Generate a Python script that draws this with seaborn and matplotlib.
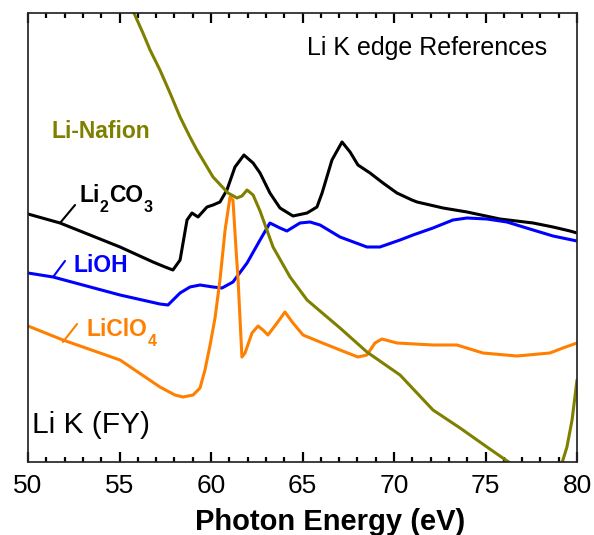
import numpy as np
import pandas as pd
import matplotlib
matplotlib.use("Agg")
import matplotlib.pyplot as plt
import seaborn as sns
from matplotlib.ticker import MultipleLocator
from matplotlib.transforms import IdentityTransform

# ---- data (photon energy in eV, intensity in arbitrary units) ----
li2co3_e = [50.00, 51.75, 55.03, 56.83, 57.49, 57.92, 58.31, 58.69, 58.96, 59.29,
            59.78, 60.11, 60.49, 60.87, 61.31, 61.80, 62.30, 62.68, 63.22, 63.77,
            64.48, 65.25, 65.79, 66.07, 66.61, 67.16, 67.60, 68.03, 68.69, 69.40,
            70.16, 70.98, 71.26, 72.68, 73.99, 75.79, 77.60, 78.69, 79.62, 80.00]
li2co3_i = [2.48, 2.39, 2.15, 2.00, 1.95, 1.92, 2.02, 2.42, 2.49, 2.45,
            2.55, 2.57, 2.60, 2.72, 2.95, 3.07, 2.99, 2.89, 2.69, 2.54,
            2.46, 2.49, 2.55, 2.69, 3.02, 3.20, 3.10, 2.97, 2.89, 2.79,
            2.69, 2.62, 2.60, 2.54, 2.50, 2.43, 2.39, 2.35, 2.31, 2.29]

lioh_e = [50.00, 51.37, 55.03, 57.21, 57.65, 58.31, 58.85, 59.40, 60.11, 60.60,
          61.20, 61.97, 62.68, 63.22, 63.77, 64.15, 64.86, 65.41, 65.96, 67.05,
          68.52, 69.23, 70.33, 71.04, 72.13, 73.22, 73.99, 75.08, 76.17, 77.60,
          78.69, 80.00]
lioh_i = [1.89, 1.85, 1.67, 1.58, 1.57, 1.69, 1.75, 1.77, 1.75, 1.74,
          1.80, 1.99, 2.22, 2.39, 2.34, 2.31, 2.39, 2.40, 2.37, 2.25,
          2.15, 2.15, 2.22, 2.27, 2.34, 2.42, 2.44, 2.43, 2.40, 2.32,
          2.26, 2.21]

liclo4_e = [50.00, 51.91, 55.03, 57.21, 58.03, 58.47, 59.02, 59.40, 59.67, 59.95,
            60.22, 60.49, 60.77, 61.04, 61.20, 61.37, 61.48, 61.69, 61.86, 62.24,
            62.57, 62.84, 63.11, 63.61, 64.04, 64.48, 65.03, 65.96, 67.05, 68.03,
            68.52, 68.96, 69.34, 70.16, 72.13, 73.44, 74.86, 76.72, 78.52, 79.23,
            80.00]
liclo4_i = [1.36, 1.22, 1.02, 0.75, 0.67, 0.65, 0.67, 0.74, 0.92, 1.17,
            1.44, 1.82, 2.32, 2.65, 2.62, 2.12, 1.82, 1.05, 1.09, 1.29,
            1.36, 1.32, 1.27, 1.39, 1.50, 1.39, 1.27, 1.20, 1.12, 1.05,
            1.07, 1.19, 1.23, 1.19, 1.17, 1.17, 1.09, 1.06, 1.09, 1.14,
            1.19]

nafion_e = [55.68, 55.79, 56.28, 56.67, 57.21, 57.76, 58.31, 58.85, 59.23, 60.11,
            60.93, 61.42, 61.69, 61.97, 62.30, 62.68, 63.39, 64.32, 65.25, 66.34,
            67.05, 68.52, 70.33, 72.13, 73.61, 75.08, 76.34, 76.89, 78.00, 79.18,
            79.45, 79.73, 80.00]
nafion_i = [4.57, 4.49, 4.29, 4.12, 3.92, 3.69, 3.45, 3.25, 3.12, 2.85,
            2.69, 2.64, 2.66, 2.72, 2.67, 2.51, 2.15, 1.85, 1.62, 1.45,
            1.34, 1.10, 0.87, 0.52, 0.34, 0.15, -0.01, -0.08, -0.40, -0.01,
            0.15, 0.42, 0.82]

x_ticks = [50, 55, 60, 65, 70, 75, 80]

sns.set_theme(style="white")
plt.rcParams["font.family"] = ["Liberation Sans", "DejaVu Sans"]

fig = plt.figure(figsize=(5.94, 5.35), dpi=100)
ax = fig.add_axes([28/594, 1-462/535, (577-28)/594, (462-13)/535])

series = [
    ("Li2CO3", li2co3_e, li2co3_i, "#000000"),
    ("LiOH", lioh_e, lioh_i, "#0000ff"),
    ("LiClO4", liclo4_e, liclo4_i, "#ff8000"),
    ("Li-Nafion", nafion_e, nafion_i, "#808000"),
]
frames = []
for name, e, i, c in series:
    frames.append(pd.DataFrame({"energy": e, "intensity": i, "sample": name}))
df = pd.concat(frames, ignore_index=True)

palette = {name: c for name, _, _, c in series}
sns.lineplot(data=df, x="energy", y="intensity", hue="sample", palette=palette,
             sort=False, estimator=None, linewidth=2.2, legend=False, ax=ax)

ax.set_xlim(50, 80)
ax.set_ylim(0, 4.49)
ax.set_ylabel("")
ax.set_xlabel("Photon Energy (eV)", fontsize=21, fontweight="bold", color="black")
ax.xaxis.set_label_coords(0.55, -0.103)

# labels
ax.text(65.25, 4.07, "Li K edge References", fontsize=18, color="black", va="baseline")
ax.text(50.22, 0.29, "Li K (FY)", fontsize=21.5, color="black", va="baseline")
ax.text(51.31, 3.24, "Li-Nafion", fontsize=16.5, fontweight="bold", color="#808000", va="baseline")
ax.text(52.51, 1.90, "LiOH", fontsize=16.5, fontweight="bold", color="#0000ff", va="baseline")

# leader lines
ax.plot([51.75, 52.57], [2.39, 2.57], color="#000000", lw=1.5)
ax.plot([51.37, 52.02], [1.85, 2.01], color="#0000ff", lw=1.5)
ax.plot([51.91, 52.68], [1.20, 1.38], color="#ff8000", lw=1.5)

# ticks
ax.set_yticks([])
ax.set_xticks(x_ticks)
ax.xaxis.set_minor_locator(MultipleLocator(1))
ax.tick_params(axis="x", which="both", direction="in", top=True, bottom=True,
               labelsize=19, pad=8.5, color="black", labelcolor="black")
ax.tick_params(axis="x", which="major", length=7, width=1.6)
ax.tick_params(axis="x", which="minor", length=3.5, width=1.6)

fig.canvas.draw()
renderer = fig.canvas.get_renderer()


def formula(x, y, parts, color, size=16.5, sub_size=11.5, sub_drop=10):
    xd, yd = ax.transData.transform((x, y))
    for txt, sub in parts:
        t = ax.text(xd, yd - (sub_drop if sub else 0), txt,
                    fontsize=sub_size if sub else size, fontweight="bold",
                    color=color, va="baseline", ha="left",
                    transform=IdentityTransform())
        bb = t.get_window_extent(renderer)
        xd = bb.x1 + (1 if sub else 0)


formula(52.79, 2.60, [("Li", False), ("2", True), ("CO", False), ("3", True)], "#000000")
formula(53.22, 1.26, [("LiClO", False), ("4", True)], "#ff8000")

fig.savefig("out.png", dpi=100)
